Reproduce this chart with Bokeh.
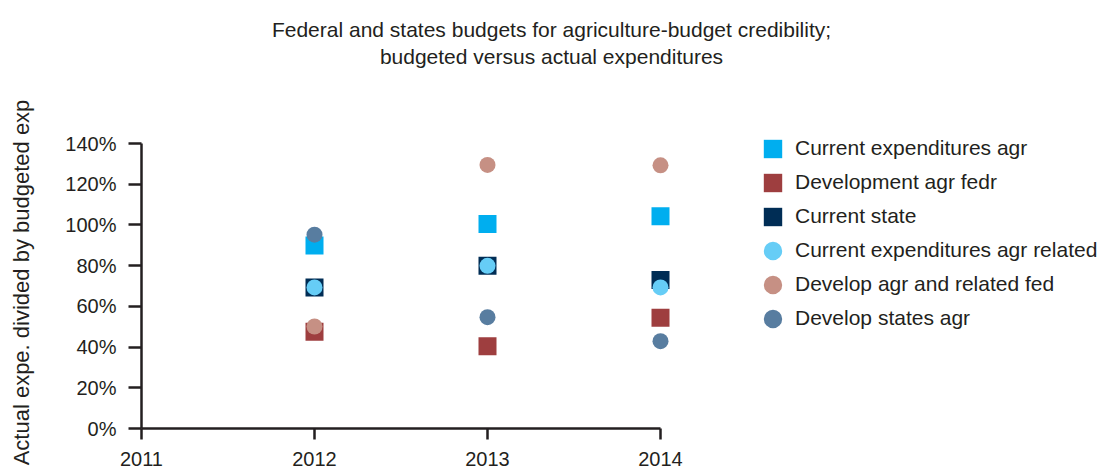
import math
from bokeh.plotting import figure
from bokeh.models import FixedTicker, PrintfTickFormatter, Legend, LegendItem, Label, Range1d
from bokeh.core.properties import value
from bokeh.embed import file_html
from bokeh.resources import INLINE

# ---- data (values in percent) ----
years = [2012, 2013, 2014]
current_expenditures_agr = [89.9, 100.4, 104.3]
development_agr_fedr = [47.5, 40.4, 54.4]
current_state = [69.3, 79.9, 73.0]
current_expenditures_agr_related = [69.3, 79.9, 69.3]
develop_agr_and_related_fed = [50.1, 129.5, 129.3]
develop_states_agr = [95.2, 54.7, 42.9]

x_ticks = [2011, 2012, 2013, 2014]
y_ticks = [0, 20, 40, 60, 80, 100, 120, 140]

series_names = [
    "Current expenditures agr",
    "Development agr fedr",
    "Current state",
    "Current expenditures agr related",
    "Develop agr and related fed",
    "Develop states agr",
]
title_lines = [
    "Federal and states budgets for agriculture-budget credibility;",
    "budgeted versus actual expenditures",
]
y_label = "Actual expe. divided by budgeted exp"

# ---- style / layout ----
FONT = "Liberation Sans"
TXT = "#231f20"
series_style = [
    ("square", "#00aeef", 18),
    ("square", "#9e3e3f", 18),
    ("square", "#002d55", 18),
    ("circle", "#66cdf6", 16),
    ("circle", "#c69084", 16),
    ("circle", "#587da0", 16),
]

W, H = 1103, 470
LEFT, BOTTOM = 141, 428          # frame left / frame bottom in pixels
PX_PER_YEAR = 173.0
PX_PER_PCT = (428 - 143) / 140.0
x_end = x_ticks[0] + (W - LEFT) / PX_PER_YEAR
y_end = BOTTOM / PX_PER_PCT

p = figure(width=W, height=H, output_backend="svg", toolbar_location=None,
           x_range=Range1d(x_ticks[0], x_end), y_range=Range1d(0, y_end),
           min_border_left=LEFT, min_border_right=0,
           min_border_top=0, min_border_bottom=H - BOTTOM)
p.outline_line_color = None
p.xgrid.grid_line_color = None
p.ygrid.grid_line_color = None
p.background_fill_color = "white"
p.border_fill_color = "white"

for ax in (p.xaxis[0], p.yaxis[0]):
    ax.axis_line_color = TXT
    ax.axis_line_width = 2.5
    ax.major_tick_line_color = TXT
    ax.major_tick_line_width = 2.5
    ax.minor_tick_line_color = None
    ax.major_tick_in = 0
    ax.major_label_text_font = FONT
    ax.major_label_text_color = TXT
    ax.major_label_text_font_size = "20px"

p.xaxis.ticker = FixedTicker(ticks=x_ticks)
p.xaxis.bounds = (x_ticks[0], x_ticks[-1])
p.xaxis.formatter = PrintfTickFormatter(format="%d")
p.xaxis.major_tick_out = 11
p.xaxis.major_label_standoff = 12
p.xaxis.major_label_text_line_height = 0.9

p.yaxis.ticker = FixedTicker(ticks=y_ticks)
p.yaxis.bounds = (y_ticks[0], y_ticks[-1])
p.yaxis.formatter = PrintfTickFormatter(format="%d%%")
p.yaxis.major_tick_out = 13
p.yaxis.major_label_standoff = 12

all_values = [current_expenditures_agr, development_agr_fedr, current_state,
              current_expenditures_agr_related, develop_agr_and_related_fed,
              develop_states_agr]

items = []
for name, vals, (shape, color, size) in zip(series_names, all_values, series_style):
    if shape == "square":
        r = p.rect(years, vals, width=size, height=size, width_units="screen",
                   height_units="screen", fill_color=color, line_color=None)
    else:
        r = p.ellipse(years, vals, width=size, height=size, width_units="screen",
                      height_units="screen", fill_color=color, line_color=None)
    items.append(LegendItem(label=name, renderers=[r]))

legend = Legend(items=items, location=(620, 98), orientation="vertical",
                glyph_width=23, glyph_height=23, label_height=23, spacing=10,
                padding=0, margin=0, label_standoff=11,
                border_line_alpha=0, background_fill_alpha=0,
                label_text_font=FONT, label_text_font_size="21px",
                label_text_color=TXT)
p.add_layout(legend)

for txt, yy in zip(title_lines, [399, 372]):
    p.add_layout(Label(x=410, y=yy, x_units="screen", y_units="screen",
                       text=txt, text_align="center", text_baseline="alphabetic",
                       text_font=FONT, text_font_size="21px", text_color=TXT))

# rotated y-axis title (drawn as an unclipped overlay text glyph left of the axis)
label_x = x_ticks[0] - (LEFT - 21) / PX_PER_YEAR
label_y = (BOTTOM - 282) / PX_PER_PCT
p.text(x=[label_x], y=[label_y], text=[y_label], angle=math.pi / 2,
       text_align="center", text_baseline="middle", text_font=value(FONT),
       text_font_size=value("22px"), text_color=TXT, level="overlay")

open("out.html", "w").write(file_html(p, INLINE))
